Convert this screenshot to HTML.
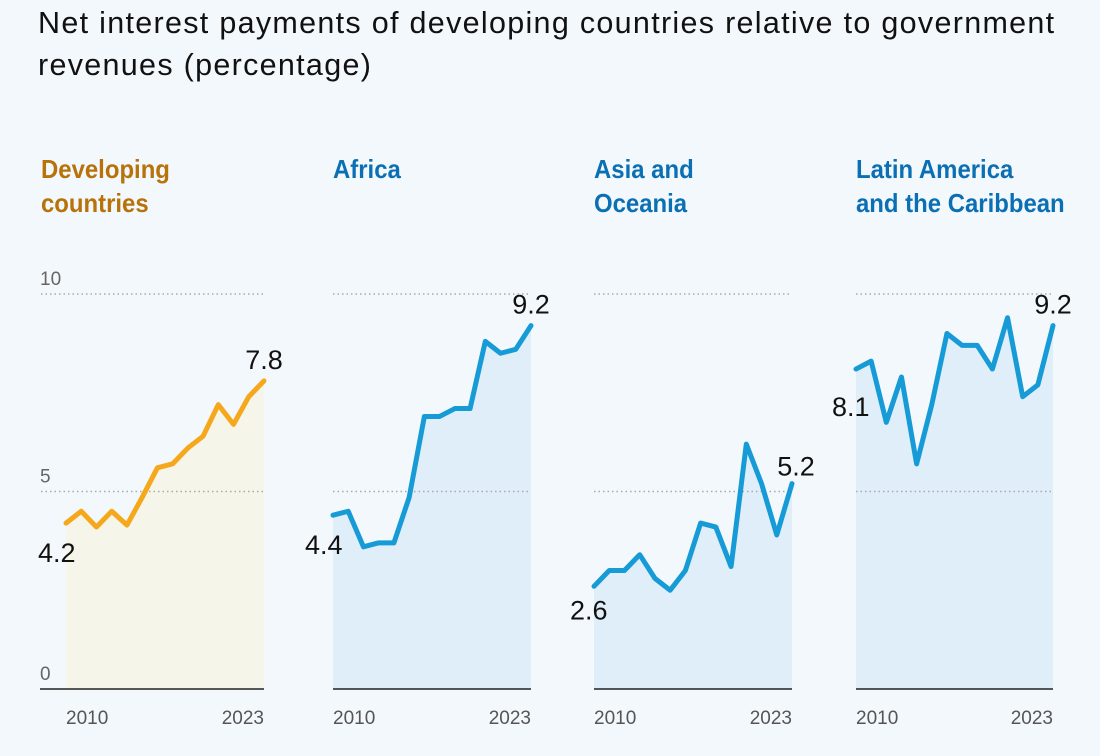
<!DOCTYPE html>
<html><head><meta charset="utf-8">
<style>
body{margin:0;background:#f3f8fd;width:1100px;height:756px;overflow:hidden;font-family:"Liberation Sans",sans-serif}
h1{position:absolute;left:38px;top:2px;margin:0;font-weight:normal;font-size:30.5px;letter-spacing:1.3px;line-height:42px;color:#111;width:1050px}
.pt{position:absolute;top:152px;font-family:"Liberation Sans Narrow","Liberation Sans",sans-serif;font-weight:bold;font-size:26px;line-height:34px;transform:scaleX(0.92);transform-origin:left}
</style></head><body>
<h1>Net interest payments of developing countries relative to government revenues (percentage)</h1>
<div class="pt" style="left:41px;color:#b8720a">Developing<br>countries</div>
<div class="pt" style="left:333px;color:#0b6fb3">Africa</div>
<div class="pt" style="left:594px;color:#0b6fb3">Asia and<br>Oceania</div>
<div class="pt" style="left:856px;color:#0b6fb3">Latin America<br>and the Caribbean</div>
<svg id="c" width="1100" height="756" style="position:absolute;left:0;top:0"></svg>
<script>
const years=[2010,2011,2012,2013,2014,2015,2016,2017,2018,2019,2020,2021,2022,2023];
const devVals=[4.2,4.5,4.1,4.5,4.15,4.85,5.6,5.7,6.1,6.4,7.2,6.7,7.4,7.8];
const afrVals=[4.4,4.5,3.6,3.7,3.7,4.85,6.9,6.9,7.1,7.1,8.8,8.5,8.6,9.2];
const asiaVals=[2.6,3.0,3.0,3.4,2.8,2.5,3.0,4.2,4.1,3.1,6.2,5.2,3.9,5.2];
const lacVals=[8.1,8.3,6.75,7.9,5.7,7.2,9.0,8.7,8.7,8.1,9.4,7.4,7.7,9.2];
const yTicks=[0,5,10];
const svg=document.getElementById('c');const NS='http://www.w3.org/2000/svg';
function el(t,a,txt){const e=document.createElementNS(NS,t);for(const k in a)e.setAttribute(k,a[k]);if(txt!==undefined)e.textContent=txt;svg.appendChild(e);return e;}
const y=v=>689-39.5*v;
const panels=[
{x0:66,x1:264,vals:devVals,line:'#f6a81c',fill:'#f5f5ea',name:'developing',gl:41,first:'left'},
{x0:333,x1:531,vals:afrVals,line:'#169bd7',fill:'#dfeef8',name:'africa',gl:333,first:'left'},
{x0:594,x1:792,vals:asiaVals,line:'#169bd7',fill:'#dfeef8',name:'asia',gl:594,first:'below'},
{x0:856,x1:1053,vals:lacVals,line:'#169bd7',fill:'#dfeef8',name:'lac',gl:856,first:'left'}];
panels.forEach((p,pi)=>{
 const x=i=>p.x0+(p.x1-p.x0)*(years[i]-years[0])/(years[years.length-1]-years[0]);
 let d='M'+x(0)+','+y(0);p.vals.forEach((v,i)=>d+='L'+x(i)+','+y(v));d+='L'+x(p.vals.length-1)+','+y(0)+'Z';
 let a=el('path',{d:d,fill:p.fill});
 
 
 [5,10].forEach(t=>{let g=el('line',{x1:p.gl,x2:p.x1,y1:y(t),y2:y(t),stroke:'#aaa','stroke-width':1.5,'stroke-dasharray':'1.5 3'});
 
 });
 let b=el('line',{x1:pi==0?40:p.x0,x2:p.x1,y1:689,y2:689,stroke:'#222','stroke-width':1.5});
 
 
 let pts=p.vals.map((v,i)=>x(i)+','+y(v)).join(' ');
 let l=el('polyline',{points:pts,fill:'none',stroke:p.line,'stroke-width':5,'stroke-linejoin':'round','stroke-linecap':'round'});
 
 
 const n=p.vals.length-1;
 let f=p.first=='below'?el('text',{x:x(0)-24,y:y(p.vals[0])+33,'font-size':27,fill:'#111'},p.vals[0].toFixed(1)):el('text',{x:x(0)-(pi==3?24:28),y:y(p.vals[0])+(pi==3?47:39),'font-size':27,fill:'#111'},p.vals[0].toFixed(1));
 
 
 let la=el('text',{x:x(n)+(pi==2?4:0),y:y(p.vals[n])-(pi==2?8:12),'font-size':27,fill:'#111','text-anchor':'middle'},p.vals[n].toFixed(1));
 
 
 let t1=el('text',{x:p.x0,y:724,'font-size':19,fill:'#555'},String(years[0]));
 
 
 let t2=el('text',{x:p.x1,y:724,'font-size':19,fill:'#555','text-anchor':'end'},String(years[n]));
 
 
});
yTicks.forEach(t=>{let e=el('text',{x:40,y:y(t)-9,'font-size':19,fill:'#666'},String(t));
 
 });
</script>
</body></html>
